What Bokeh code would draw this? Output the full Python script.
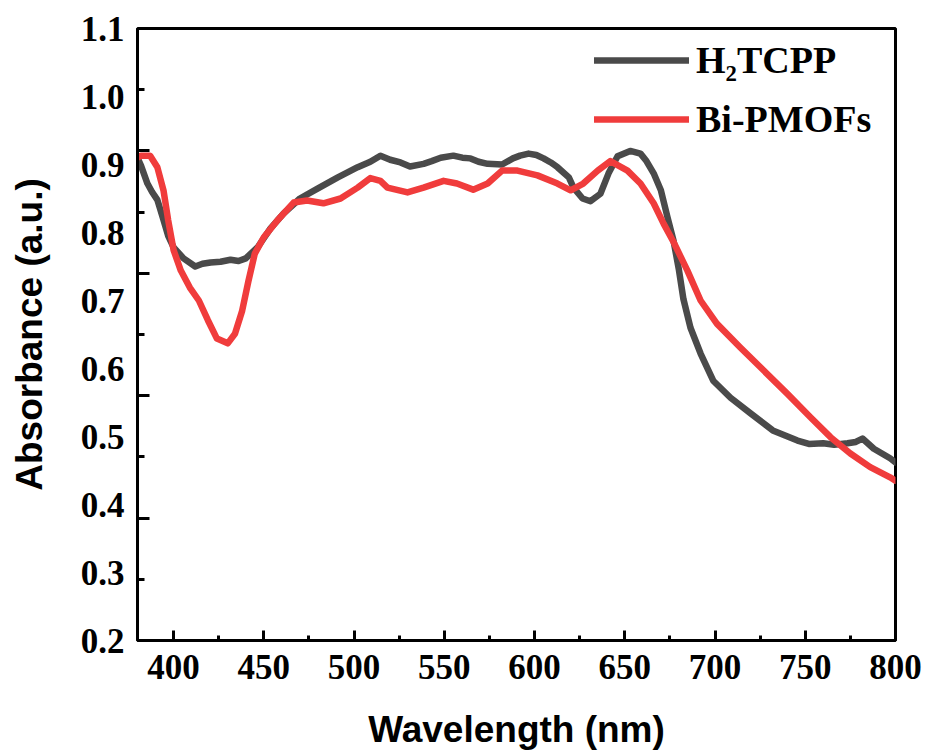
from bokeh.plotting import figure
from bokeh.models import (Range1d, FixedTicker, LinearAxis, PrintfTickFormatter,
                          CustomJSTickFormatter, Legend, LegendItem)
from bokeh.embed import file_html
from bokeh.resources import INLINE

# ---- data ----
h2tcpp_x = [380, 382, 385.5, 388, 391, 394, 397, 400, 405.5, 412, 416, 420.5, 426, 431.5, 436, 440,
            446.5, 453.7, 461, 470, 480, 491, 502, 509, 514.6, 520, 525.7, 531, 538.5, 543, 548, 555,
            560, 564.5, 569, 574, 582, 588, 592, 596.7, 601, 605, 609, 612.7, 619, 621.6, 626.6, 631,
            636.5, 641, 646, 653, 658.7, 662, 666, 670, 673.7, 677, 680, 682.5, 686.4, 692, 699, 708.6,
            719.7, 732, 745.7, 752, 760, 766, 773.4, 778, 781.7, 788, 797, 800]
h2tcpp_y = [0.910, 0.898, 0.872, 0.860, 0.848, 0.822, 0.795, 0.778, 0.762, 0.750, 0.754, 0.756, 0.757,
            0.760, 0.758, 0.762, 0.778, 0.806, 0.828, 0.850, 0.865, 0.881, 0.896, 0.904, 0.913, 0.907,
            0.903, 0.897, 0.901, 0.905, 0.910, 0.913, 0.910, 0.909, 0.904, 0.901, 0.900, 0.909, 0.913,
            0.916, 0.914, 0.909, 0.903, 0.896, 0.881, 0.866, 0.850, 0.846, 0.857, 0.887, 0.912, 0.920,
            0.916, 0.905, 0.887, 0.862, 0.822, 0.788, 0.745, 0.702, 0.660, 0.622, 0.582, 0.557, 0.534,
            0.509, 0.494, 0.489, 0.490, 0.488, 0.490, 0.492, 0.497, 0.482, 0.468, 0.462]

bipmof_x = [380, 382, 387, 391, 394.4, 397, 400, 404, 409, 414, 419, 424, 430, 434, 438, 441.5, 445,
            450, 457.6, 466.5, 474, 483, 492.5, 502, 509, 514.6, 518.5, 529.6, 538.5, 549.6, 557, 566,
            574, 582, 590.5, 601.6, 612.7, 620, 627, 635, 642, 651.5, 658.7, 666, 671.5, 677, 684.7,
            692, 701, 714, 727, 740, 753, 764, 775, 786, 797, 800]
bipmof_y = [0.910, 0.913, 0.913, 0.896, 0.862, 0.818, 0.774, 0.744, 0.719, 0.700, 0.671, 0.644, 0.637,
            0.651, 0.685, 0.729, 0.769, 0.793, 0.818, 0.844, 0.847, 0.843, 0.850, 0.866, 0.880, 0.876,
            0.866, 0.859, 0.866, 0.876, 0.872, 0.863, 0.872, 0.891, 0.891, 0.884, 0.872, 0.862, 0.872,
            0.891, 0.905, 0.891, 0.872, 0.843, 0.813, 0.786, 0.744, 0.700, 0.666, 0.631, 0.597, 0.563,
            0.528, 0.499, 0.475, 0.455, 0.440, 0.435]

series_names = ["H\u2082TCPP", "Bi-PMOFs"]
series_colors = ["#4a4a4a", "#f03c3c"]

x_major = [400, 450, 500, 550, 600, 650, 700, 750, 800]
x_minor = [425, 475, 525, 575, 625, 675, 725, 775]
y_labels = [0.2, 0.3, 0.4, 0.5, 0.6, 0.7, 0.8, 0.9, 1.0, 1.1]
y_tick_major = [0.38, 0.56, 0.74, 0.92]
y_tick_minor = [0.29, 0.47, 0.65, 0.83, 1.01]

SERIF = "Liberation Serif"
SANS = "Liberation Sans"

p = figure(frame_width=758, frame_height=612,
           min_border_left=137, min_border_right=33, min_border_top=28, min_border_bottom=113,
           x_range=Range1d(380, 800), y_range=Range1d(0.2, 1.1),
           output_backend="svg", toolbar_location=None, background_fill_color="white",
           border_fill_color="white")
p.grid.visible = False
p.outline_line_color = "black"
p.outline_line_width = 3

r1 = p.line(h2tcpp_x, h2tcpp_y, line_color=series_colors[0], line_width=6.5,
            line_join="round", line_cap="round")
r2 = p.line(bipmof_x, bipmof_y, line_color=series_colors[1], line_width=6.5,
            line_join="round", line_cap="round")

# x axis
xa = p.xaxis[0]
xa.ticker = FixedTicker(ticks=x_major, minor_ticks=x_minor)
xa.formatter = PrintfTickFormatter(format="%d")
xa.axis_line_width = 3
xa.major_tick_line_width = 3
xa.minor_tick_line_width = 3
xa.major_tick_in = 10
xa.major_tick_out = 0
xa.minor_tick_in = 5
xa.minor_tick_out = 0
xa.major_label_text_font = SERIF
xa.major_label_text_font_style = "bold"
xa.major_label_text_font_size = "35px"
xa.major_label_text_color = "black"
xa.major_label_standoff = 14
xa.axis_label = "Wavelength (nm)"
xa.axis_label_text_font = SANS
xa.axis_label_text_font_style = "bold"
xa.axis_label_text_font_size = "37px"
xa.axis_label_text_color = "black"
xa.axis_label_standoff = 27

# y axis: tick marks (inner, no labels)
ya = p.yaxis[0]
ya.ticker = FixedTicker(ticks=y_tick_major, minor_ticks=y_tick_minor)
ya.formatter = CustomJSTickFormatter(code="return '';")
ya.axis_line_width = 3
ya.major_tick_line_width = 3
ya.minor_tick_line_width = 3
ya.major_tick_in = 12
ya.major_tick_out = 0
ya.minor_tick_in = 7
ya.minor_tick_out = 0
ya.major_label_standoff = 0
ya.major_label_text_font_size = "1px"

# y axis: labels (outer, no tick marks)
yl = LinearAxis(ticker=FixedTicker(ticks=y_labels, minor_ticks=[]),
                formatter=PrintfTickFormatter(format="%.1f"))
yl.axis_line_color = None
yl.major_tick_line_color = None
yl.minor_tick_line_color = None
yl.major_tick_in = 0
yl.major_tick_out = 0
yl.minor_tick_in = 0
yl.minor_tick_out = 0
yl.major_label_text_font = SERIF
yl.major_label_text_font_style = "bold"
yl.major_label_text_font_size = "35px"
yl.major_label_text_color = "black"
yl.major_label_standoff = 13
yl.axis_label = "Absorbance (a.u.)"
yl.axis_label_text_font = SANS
yl.axis_label_text_font_style = "bold"
yl.axis_label_text_font_size = "37px"
yl.axis_label_text_color = "black"
yl.axis_label_standoff = 28
p.add_layout(yl, "left")

legend = Legend(items=[LegendItem(label=series_names[0], renderers=[r1]),
                       LegendItem(label=series_names[1], renderers=[r2])],
                location=(457, 496))
legend.border_line_color = None
legend.background_fill_alpha = 0
legend.padding = 0
legend.margin = 0
legend.spacing = 9
legend.glyph_width = 95
legend.glyph_height = 50
legend.label_standoff = 7
legend.label_text_font = SERIF
legend.label_text_font_style = "bold"
legend.label_text_font_size = "38px"
legend.label_text_color = "black"
legend.label_text_baseline = "middle"
p.add_layout(legend)

open("out.html", "w").write(file_html(p, INLINE))
